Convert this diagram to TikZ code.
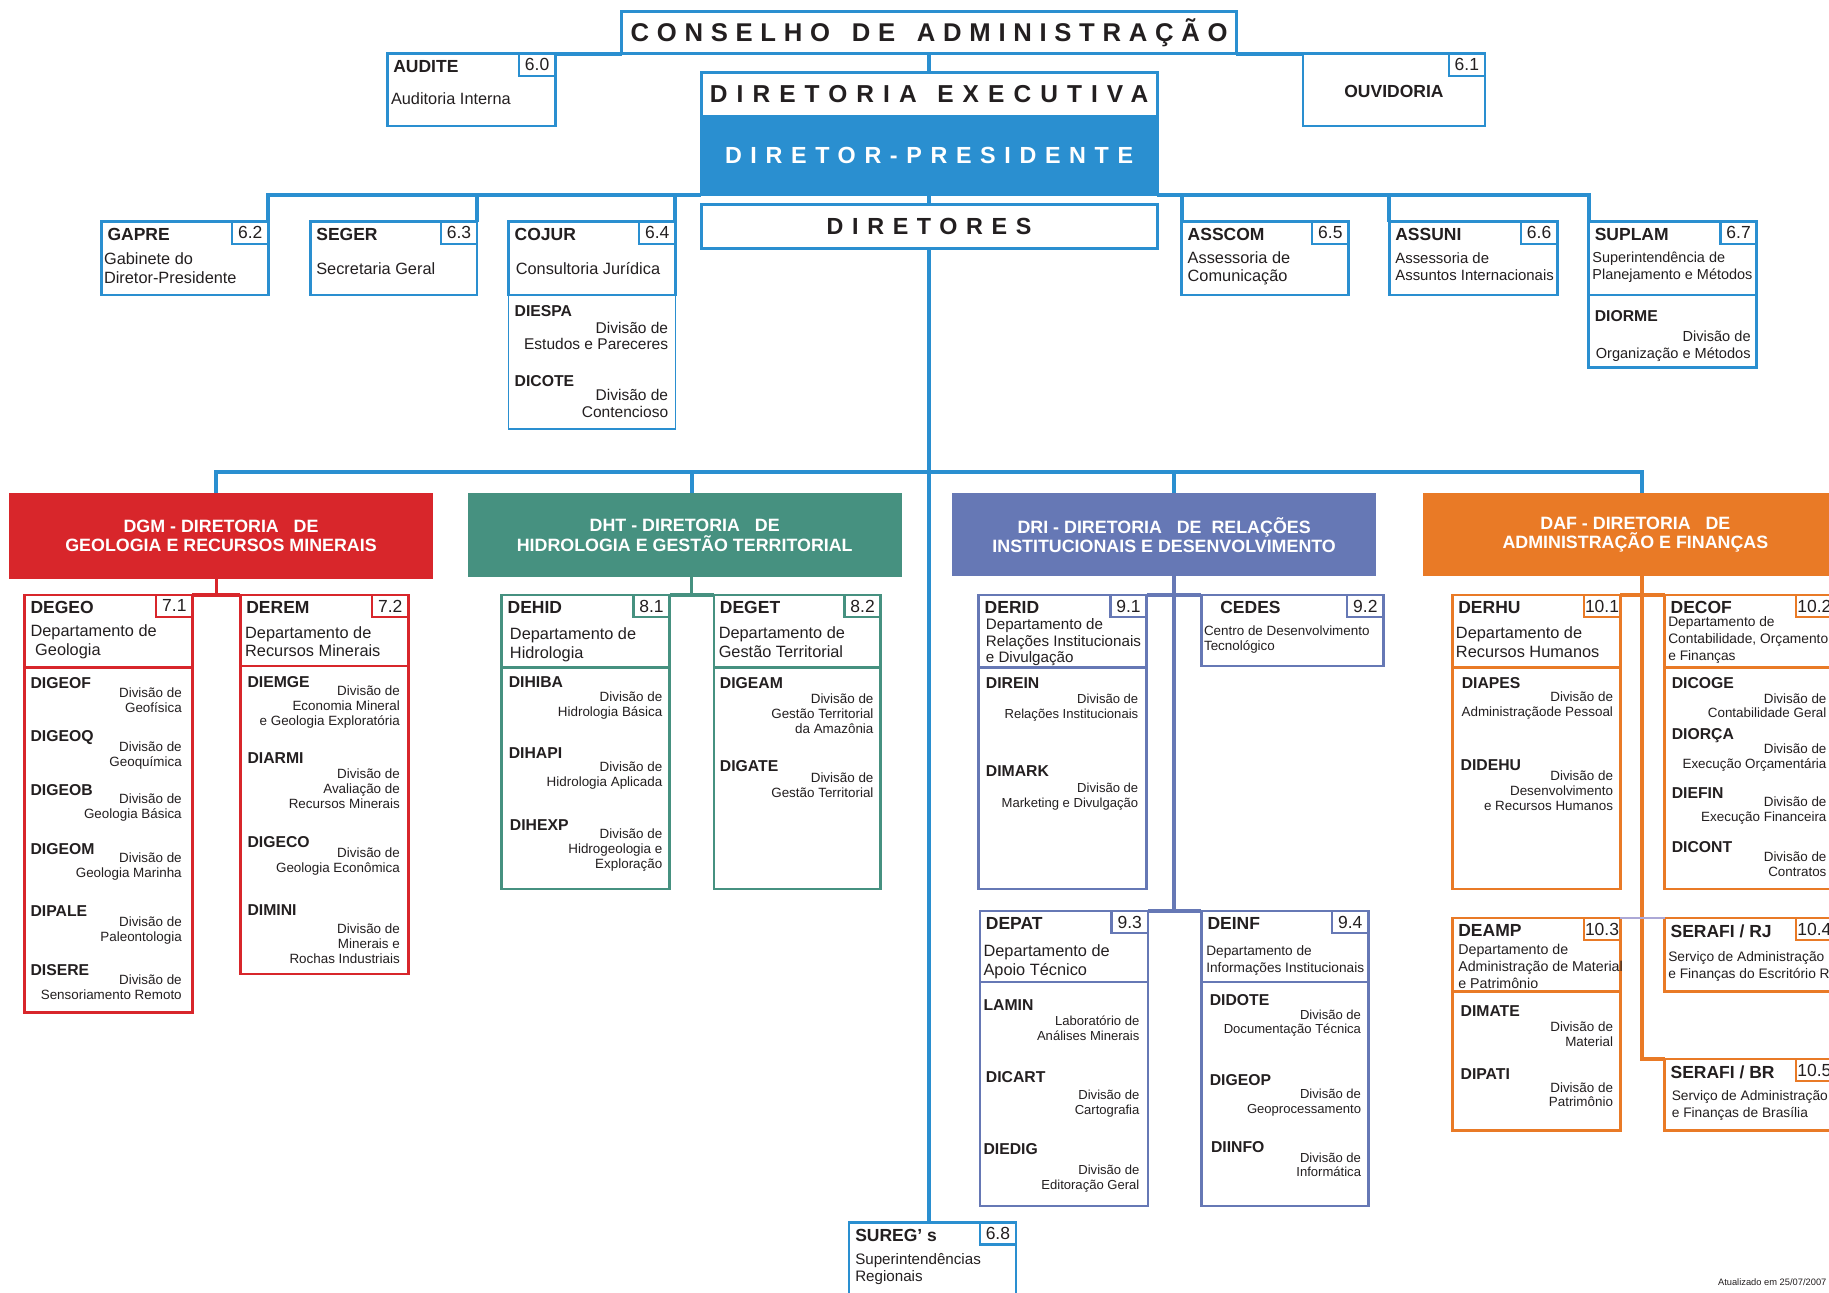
\documentclass[tikz,border=0pt]{standalone}
\usepackage{fontspec}
\setmainfont{Liberation Sans}
\newfontfamily\spacedfont[LetterSpace=30]{Liberation Sans}
\newfontfamily\widefont[LetterSpace=37]{Liberation Sans}
\usetikzlibrary{calc}

\definecolor{cpblue}{RGB}{42,143,208}
\definecolor{cpred}{RGB}{216,38,43}
\definecolor{cpteal}{RGB}{70,145,128}
\definecolor{cpviolet}{RGB}{102,120,181}
\definecolor{cporange}{RGB}{233,122,38}
\definecolor{cplilac}{RGB}{172,168,214}
\definecolor{ink}{RGB}{35,31,32}

% box with number tab and code
\newcommand{\orgunit}[8]{%
  \node[boxfr, draw=#2, minimum width=#5pt, minimum height=#6pt] (#1) at (#3,#4) {};
  \node[numfr, draw=#2] (#1-n) at (#1.north east) {#7};
  \node[codetxt] (#1-c) at ([xshift=5pt,yshift=-11pt]#1.north west) {#8};
}
% division entry
\newcommand{\orgdiv}[6]{%
  \node[dcode] (#1) at (#2,#3) {#4};
  \node[ddesc] (#1-d) at (\rgt,#5) {#6};
}

\begin{document}
\begin{tikzpicture}[x=1pt, y=-1pt,
  boxfr/.style={draw, line width=2.2pt, anchor=north west, inner sep=0pt, outer sep=0pt},
  numfr/.style={draw, line width=2pt, anchor=north east, minimum width=31pt, outer sep=0pt,
    minimum height=19pt, inner sep=1pt, text=ink, font=\fontsize{15}{15}\selectfont},
  codetxt/.style={anchor=west, inner sep=0pt, text=ink, font=\bfseries\fontsize{15}{15}\selectfont},
  subtxt/.style={anchor=west, inner sep=0pt, align=left, text=ink, font=\fontsize{14}{16}\selectfont},
  dcode/.style={anchor=west, inner sep=0pt, text=ink, font=\bfseries\fontsize{13.5}{13.5}\selectfont},
  ddesc/.style={anchor=east, inner sep=0pt, align=right, text=ink, font=\fontsize{11.5}{12.8}\selectfont},
  headbox/.style={draw=cpblue, line width=2.5pt, anchor=north west, inner sep=0pt, outer sep=0pt,
    text=ink, font=\widefont\bfseries\fontsize{20}{20}\selectfont},
  dirbox/.style={anchor=north west, inner sep=0pt, outer sep=0pt, align=center, text=white,
    font=\bfseries\fontsize{15.3}{16.5}\selectfont},
  bus/.style={draw=cpblue, line width=3.5pt},
  redline/.style={draw=cpred, line width=3pt},
  tealline/.style={draw=cpteal, line width=3pt},
  violine/.style={draw=cpviolet, line width=3.5pt},
  orline/.style={draw=cporange, line width=3.5pt},
]

\useasboundingbox (0,0) rectangle (1568,1108);
\clip (0,0) rectangle (1568,1108);
\fill[white] (0,0) rectangle (1568,1108);

% HEAD
\node[headbox, minimum width=527pt, minimum height=36pt,
  font=\spacedfont\bfseries\fontsize{22}{22}\selectfont] (conselho) at (533,10)
  {CONSELHO\hspace{6pt} DE\hspace{6pt} ADMINISTRAÇÃO};
\node[headbox, minimum width=391pt, minimum height=38pt,
  font=\widefont\bfseries\fontsize{21}{21}\selectfont] (direx) at (601,62) {DIRETORIA\hspace{4pt} EXECUTIVA};
\node[headbox, fill=cpblue, text=white, minimum width=391pt, minimum height=67pt] (dirpres) at (601,100) {DIRETOR-PRESIDENTE};
\node[headbox, minimum width=391pt, minimum height=38pt] (diretores) at (601,175) {DIRETORES};

\orgunit{audite}{cpblue}{332}{46}{144}{62}{6.0}{AUDITE}
\node[subtxt] (audite-s) at (335,85) {Auditoria Interna};
\orgunit{ouvid}{cpblue}{1117}{46}{156}{62}{6.1}{}
\node[codetxt, anchor=center] (ouvid-t) at (1195,78) {OUVIDORIA};

% ASSESSORIAS
\orgunit{gapre}{cpblue}{87}{190}{143}{63}{6.2}{GAPRE}
\node[subtxt] (gapre-s) at (89,230) {Gabinete do\\Diretor-Presidente};
\orgunit{seger}{cpblue}{266}{190}{143}{63}{6.3}{SEGER}
\node[subtxt] (seger-s) at (271,230) {Secretaria Geral};
\orgunit{cojur}{cpblue}{436}{190}{143}{63}{6.4}{COJUR}
\node[subtxt] (cojur-s) at (442,230) {Consultoria Jurídica};
\orgunit{asscom}{cpblue}{1013}{190}{143}{63}{6.5}{ASSCOM}
\node[subtxt] (asscom-s) at (1018,230) {Assessoria de\\Comunicação};
\orgunit{assuni}{cpblue}{1191}{190}{144}{63}{6.6}{ASSUNI}
\node[subtxt, font=\fontsize{12.8}{14.5}\selectfont] (assuni-s) at (1196,229) {Assessoria de\\Assuntos Internacionais};
\orgunit{suplam}{cpblue}{1362}{190}{144}{63}{6.7}{SUPLAM}
\node[subtxt, font=\fontsize{12.4}{14.5}\selectfont] (suplam-s) at (1365,229) {Superintendência de\\Planejamento e Métodos};
\orgunit{sureg}{cpblue}{728}{1048}{143}{70}{6.8}{SUREG’ s}
\node[subtxt, font=\fontsize{13}{15}\selectfont] (sureg-s) at (733,1088) {Superintendências\\Regionais};

\begin{scope}[ddesc/.append style={font=\fontsize{13.3}{14.5}\selectfont}]
  \node[boxfr, draw=cpblue, line width=1.5pt, minimum width=143pt, minimum height=115pt] (cojur-v) at (436,253) {};
  \def\rgt{573}
  \orgdiv{diespa}{441}{267}{DIESPA}{288}{Divisão de\\Estudos e Pareceres}
  \orgdiv{dicote}{441}{327}{DICOTE}{346}{Divisão de\\Contencioso}
\end{scope}
\begin{scope}[ddesc/.append style={font=\fontsize{12.5}{14.5}\selectfont}]
  \node[boxfr, draw=cpblue, minimum width=144pt, minimum height=62pt] (suplam-v) at (1362,253) {};
  \def\rgt{1501}
  \orgdiv{diorme}{1367}{271}{DIORME}{297}{Divisão de\\Organização e Métodos}
\end{scope}

% DIRETORIAS
\node[dirbox, fill=cpred, minimum width=363pt, minimum height=73pt] (dgm) at (8,423)
  {DGM - DIRETORIA\ \ \ DE\\GEOLOGIA E RECURSOS MINERAIS};
\node[dirbox, fill=cpteal, minimum width=372pt, minimum height=72pt] (dht) at (401,423)
  {DHT - DIRETORIA\ \ \ DE\\HIDROLOGIA E GESTÃO TERRITORIAL};
\node[dirbox, fill=cpviolet, minimum width=364pt, minimum height=71pt] (dri) at (816,423)
  {DRI - DIRETORIA\ \ \ DE\ \ RELAÇÕES\\INSTITUCIONAIS E DESENVOLVIMENTO};
\node[dirbox, fill=cporange, minimum width=364pt, minimum height=71pt] (daf) at (1220,423)
  {DAF - DIRETORIA\ \ \ DE\\ADMINISTRAÇÃO E FINANÇAS};

% DGM
\orgunit{degeo}{cpred}{21}{510}{144}{62}{7.1}{DEGEO}
\node[subtxt] (degeo-s) at (26,550) {Departamento de\\\hspace{4pt}Geologia};
\node[boxfr, draw=cpred, minimum width=144pt, minimum height=296pt] (degeo-v) at (21,572) {};
\def\rgt{156}
\orgdiv{digeof}{26}{586}{DIGEOF}{600}{Divisão de\\Geofísica}
\orgdiv{digeoq}{26}{632}{DIGEOQ}{647.5}{Divisão de\\Geoquímica}
\orgdiv{digeob}{26}{677}{DIGEOB}{692.5}{Divisão de\\Geologia Básica}
\orgdiv{digeom}{26}{728}{DIGEOM}{742.5}{Divisão de\\Geologia Marinha}
\orgdiv{dipale}{26}{781}{DIPALE}{798}{Divisão de\\Paleontologia}
\orgdiv{disere}{26}{832}{DISERE}{846}{Divisão de\\Sensoriamento Remoto}
\orgunit{derem}{cpred}{206}{510}{144}{61}{7.2}{DEREM}
\node[subtxt] (derem-s) at (210,550) {Departamento de\\Recursos Minerais};
\node[boxfr, draw=cpred, minimum width=144pt, minimum height=264pt] (derem-v) at (206,571) {};
\def\rgt{343}
\orgdiv{diemge}{212}{585}{DIEMGE}{606}{Divisão de\\Economia Mineral\\e Geologia Exploratória}
\orgdiv{diarmi}{212}{650}{DIARMI}{676}{Divisão de\\Avaliação de\\Recursos Minerais}
\orgdiv{digeco}{212}{722}{DIGECO}{738.5}{Divisão de\\Geologia Econômica}
\orgdiv{dimini}{212}{780}{DIMINI}{809}{Divisão de\\Minerais e\\Rochas Industriais}

% DHT
\orgunit{dehid}{cpteal}{430}{510}{144}{62}{8.1}{DEHID}
\node[subtxt] (dehid-s) at (437,552.5) {Departamento de\\Hidrologia};
\node[boxfr, draw=cpteal, minimum width=144pt, minimum height=190pt] (dehid-v) at (430,572) {};
\def\rgt{568}
\orgdiv{dihiba}{436}{585}{DIHIBA}{604.5}{Divisão de\\Hidrologia Básica}
\orgdiv{dihapi}{436}{646}{DIHAPI}{664.5}{Divisão de\\Hidrologia Aplicada}
\orgdiv{dihexp}{437}{707}{DIHEXP}{729}{Divisão de\\Hidrogeologia e\\Exploração}
\orgunit{deget}{cpteal}{612}{510}{143}{62}{8.2}{DEGET}
\node[subtxt] (deget-s) at (616,550.5) {Departamento de\\Gestão Territorial};
\node[boxfr, draw=cpteal, minimum width=143pt, minimum height=190pt] (deget-v) at (612,572) {};
\def\rgt{749}
\orgdiv{digeam}{617}{586}{DIGEAM}{612}{Divisão de\\Gestão Territorial\\da Amazônia}
\orgdiv{digate}{617}{657}{DIGATE}{673.5}{Divisão de\\Gestão Territorial}

% DRI
\begin{scope}[ddesc/.append style={font=\fontsize{11.2}{12.5}\selectfont}]
\orgunit{derid}{cpviolet}{839}{510}{144}{62}{9.1}{DERID}
\node[subtxt, font=\fontsize{13}{14.5}\selectfont] (derid-s) at (845,550.5) {Departamento de\\Relações Institucionais\\e Divulgação};
\node[boxfr, draw=cpviolet, minimum width=144pt, minimum height=190pt] (derid-v) at (839,572) {};
\def\rgt{976}
\orgdiv{direin}{845}{586}{DIREIN}{606.5}{Divisão de\\Relações Institucionais}
\orgdiv{dimark}{845}{661}{DIMARK}{683}{Divisão de\\Marketing e Divulgação}
\orgunit{cedes}{cpviolet}{1030}{510}{156}{61}{9.2}{}
\node[codetxt] (cedes-t) at (1046,521) {CEDES};
\node[subtxt, font=\fontsize{11.5}{13}\selectfont] (cedes-s) at (1032,548.5) {Centro de Desenvolvimento\\Tecnológico};
\orgunit{depat}{cpviolet}{840}{781}{144}{61}{9.3}{DEPAT}
\node[subtxt] (depat-s) at (843,824.5) {Departamento de\\Apoio Técnico};
\node[boxfr, draw=cpviolet, minimum width=144pt, minimum height=192pt] (depat-v) at (840,842) {};
\def\rgt{977}
\orgdiv{lamin}{843}{862}{LAMIN}{881.5}{Laboratório de\\Análises Minerais}
\orgdiv{dicart}{845}{923}{DICART}{946}{Divisão de\\Cartografia}
\orgdiv{diedig}{843}{985}{DIEDIG}{1010.5}{Divisão de\\Editoração Geral}
\orgunit{deinf}{cpviolet}{1030}{781}{143}{61}{9.4}{DEINF}
\node[subtxt, font=\fontsize{11.7}{15}\selectfont] (deinf-s) at (1034,823.5) {Departamento de\\Informações Institucionais};
\node[boxfr, draw=cpviolet, minimum width=143pt, minimum height=192pt] (deinf-v) at (1030,842) {};
\def\rgt{1167}
\orgdiv{didote}{1037}{857}{DIDOTE}{877}{Divisão de\\Documentação Técnica}
\orgdiv{digeop}{1037}{926}{DIGEOP}{945.5}{Divisão de\\Geoprocessamento}
\orgdiv{diinfo}{1038}{983}{DIINFO}{998.5}{Divisão de\\Informática}
\end{scope}

% DAF
\orgunit{derhu}{cporange}{1245}{510}{144}{62}{10.1}{DERHU}
\node[subtxt] (derhu-s) at (1248,550.5) {Departamento de\\Recursos Humanos};
\node[boxfr, draw=cporange, minimum width=144pt, minimum height=190pt] (derhu-v) at (1245,572) {};
\def\rgt{1383}
\orgdiv{diapes}{1253}{586}{DIAPES}{604.5}{Divisão de\\Administraçãode Pessoal}
\orgdiv{didehu}{1252}{656}{DIDEHU}{678}{Divisão de\\Desenvolvimento\\e Recursos Humanos}
\orgunit{decof}{cporange}{1427}{510}{144}{62}{10.2}{DECOF}
\node[subtxt, font=\fontsize{11.8}{14.5}\selectfont] (decof-s) at (1430,548.5) {Departamento de\\Contabilidade, Orçamento\\e Finanças};
\node[boxfr, draw=cporange, minimum width=144pt, minimum height=190pt] (decof-v) at (1427,572) {};
\def\rgt{1566}
\orgdiv{dicoge}{1433}{586}{DICOGE}{605}{Divisão de\\Contabilidade Geral}
\orgdiv{diorca}{1433}{631}{DIORÇA}{649.5}{Divisão de\\Execução Orçamentária}
\orgdiv{diefin}{1433}{680}{DIEFIN}{694.5}{Divisão de\\Execução Financeira}
\orgdiv{dicont}{1433}{726}{DICONT}{740.5}{Divisão de\\Contratos}
\orgunit{deamp}{cporange}{1245}{787}{144}{63}{10.3}{DEAMP}
\node[subtxt, font=\fontsize{12.2}{14.5}\selectfont] (deamp-s) at (1250,828.5) {Departamento de\\Administração de Material\\e Patrimônio};
\node[boxfr, draw=cporange, minimum width=144pt, minimum height=119pt] (deamp-v) at (1245,850) {};
\def\rgt{1383}
\orgdiv{dimate}{1252}{867}{DIMATE}{886.5}{Divisão de\\Material}
\orgdiv{dipati}{1252}{921}{DIPATI}{938.5}{Divisão de\\Patrimônio}
\orgunit{serrj}{cporange}{1427}{787}{144}{63}{10.4}{SERAFI / RJ}
\node[subtxt, font=\fontsize{11.8}{15}\selectfont] (serrj-s) at (1430,828.5) {Serviço de Administração\\e Finanças do Escritório RJ};
\orgunit{serbr}{cporange}{1427}{908}{144}{61}{10.5}{SERAFI / BR}
\node[subtxt, font=\fontsize{11.8}{15}\selectfont] (serbr-s) at (1433,947.5) {Serviço de Administração\\e Finanças de Brasília};

\node[anchor=east, inner sep=0pt, text=ink, font=\fontsize{8}{8}\selectfont] (data) at (1566,1099) {Atualizado em 25/07/2007};

% LINKS
\draw[bus] (conselho.south) -- (direx.north);
\draw[bus] (audite.north east) -- (conselho.south west);
\draw[bus] (conselho.south east) -- (ouvid.north west);
\draw[bus] (dirpres.south) -- (diretores.north);
\foreach \u in {gapre,seger,cojur}
  \draw[bus] (\u.north east) |- (dirpres.south west);
\foreach \u in {asscom,assuni,suplam}
  \draw[bus] (\u.north west) |- (dirpres.south east);
\draw[bus] (diretores.south) -- (diretores.south |- sureg.north);

\coordinate (dgm-j) at ($(degeo.north east)!.5!(derem.north west)$);
\coordinate (dht-j) at ($(dehid.north east)!.5!(deget.north west)$);
\coordinate (dri-j) at ($(derid.north east)!.5!(cedes.north west)$);
\coordinate (daf-j) at ($(derhu.north east)!.5!(decof.north west)$);
\coordinate (busb) at (797,405);
\draw[bus] (dgm-j |- dgm.north) |- (busb) -| (daf-j |- daf.north);
\draw[bus] (dht-j |- dht.north) -- (dht-j |- busb);
\draw[bus] (dri-j |- dri.north) -- (dri-j |- busb);

\draw[redline] (dgm-j |- dgm.south) -- (dgm-j);
\draw[redline] (degeo.north east) -- (derem.north west);
\draw[tealline] (dht-j |- dht.south) -- (dht-j);
\draw[tealline] (dehid.north east) -- (deget.north west);
\draw[violine] (dri-j |- dri.south) -- (dri-j |- depat.north);
\draw[violine] (derid.north east) -- (cedes.north west);
\draw[violine] (depat.north east) -- (deinf.north west);
\draw[orline] (daf-j |- daf.south) |- (serbr.north west);
\draw[orline] (derhu.north east) -- (decof.north west);
\draw[cplilac, line width=2pt] (deamp.north east) -- (serrj.north west);

\end{tikzpicture}
\end{document}
